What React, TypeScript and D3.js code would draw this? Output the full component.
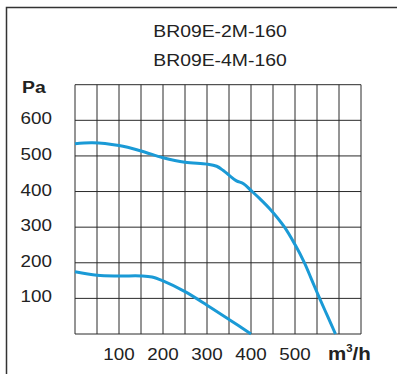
import { useMemo } from "react";
import * as d3 from "d3";

const WIDTH = 397;
const HEIGHT = 374;
const FONT = "'Liberation Sans', Arial, sans-serif";
const CURVE_COLOR = "#1a9ad6";
const STRETCH = 1.14; // reference glyphs are a bit wider than Arial

const TITLES = ["BR09E-2M-160", "BR09E-4M-160"];
const X_TICKS = [100, 200, 300, 400, 500];
const Y_TICKS = [100, 200, 300, 400, 500, 600];

// 2M curve (flow m3/h, pressure Pa)
const FLOW_2M = [0, 40, 100, 150, 200, 250, 300, 322, 337, 350, 367, 383, 400, 420, 443, 475, 500, 521, 538, 556, 574, 592];
const PRESS_2M = [534, 537, 529, 514, 495, 482, 477, 471, 459, 446, 430, 422, 403, 380, 351, 302, 251, 201, 152, 100, 50, 0];

// 4M curve
const FLOW_4M = [0, 50, 100, 150, 175, 200, 250, 300, 350, 400];
const PRESS_4M = [175, 165, 163, 163, 160, 149, 119, 81, 41, 0];

function App() {
  const x = useMemo(() => d3.scaleLinear().domain([0, 650]).range([75, 361]), []);
  const y = useMemo(() => d3.scaleLinear().domain([0, 700]).range([334, 84.7]), []);

  const line = d3
    .line<[number, number]>()
    .x((d) => x(d[0]))
    .y((d) => y(d[1]))
    .curve(d3.curveCatmullRom.alpha(0.5));

  const path2M = line(FLOW_2M.map((f, i) => [f, PRESS_2M[i]]));
  const path4M = line(FLOW_4M.map((f, i) => [f, PRESS_4M[i]]));

  const xGrid = d3.range(0, 651, 50);
  const yGrid = d3.range(0, 701, 100);

  const at = (px: number, py: number) => `translate(${px},${py}) scale(${STRETCH},1)`;

  return (
    <svg
      width={WIDTH}
      height={HEIGHT}
      style={{ position: "absolute", left: 0, top: 0, background: "#fff" }}
      fontFamily={FONT}
    >
      {/* outer frame */}
      <path d={`M6.5,${HEIGHT} V7.5 H${WIDTH}`} fill="none" stroke="#333" strokeWidth={1.5} />

      {TITLES.map((t, i) => (
        <text key={t} transform={at(220, 37 + i * 29)} textAnchor="middle" fontSize={17} fill="#222">
          {t}
        </text>
      ))}

      {xGrid.map((v) => (
        <line key={"vx" + v} x1={x(v)} x2={x(v)} y1={y(0)} y2={y(700)} stroke="#2a2a2a" strokeWidth={1} />
      ))}
      {yGrid.map((v) => (
        <line key={"hy" + v} x1={x(0)} x2={x(650)} y1={y(v)} y2={y(v)} stroke="#2a2a2a" strokeWidth={1} />
      ))}

      <path d={path2M || ""} fill="none" stroke={CURVE_COLOR} strokeWidth={3} />
      <path d={path4M || ""} fill="none" stroke={CURVE_COLOR} strokeWidth={3} />

      <text transform={at(22, 93)} fontSize={17} fontWeight="bold" fill="#222">
        Pa
      </text>
      {Y_TICKS.map((v) => (
        <text key={"yt" + v} transform={at(52, y(v) + 4)} textAnchor="end" fontSize={16.5} fill="#222">
          {v}
        </text>
      ))}
      {X_TICKS.map((v) => (
        <text key={"xt" + v} transform={at(x(v), 360)} textAnchor="middle" fontSize={16.5} fill="#222">
          {v}
        </text>
      ))}
      <text transform={at(328, 360)} fontSize={18} fontWeight="bold" fill="#222">
        m<tspan fontSize={10} dy={-8}>3</tspan>
        <tspan dy={8}>/h</tspan>
      </text>
    </svg>
  );
}

export default App;
